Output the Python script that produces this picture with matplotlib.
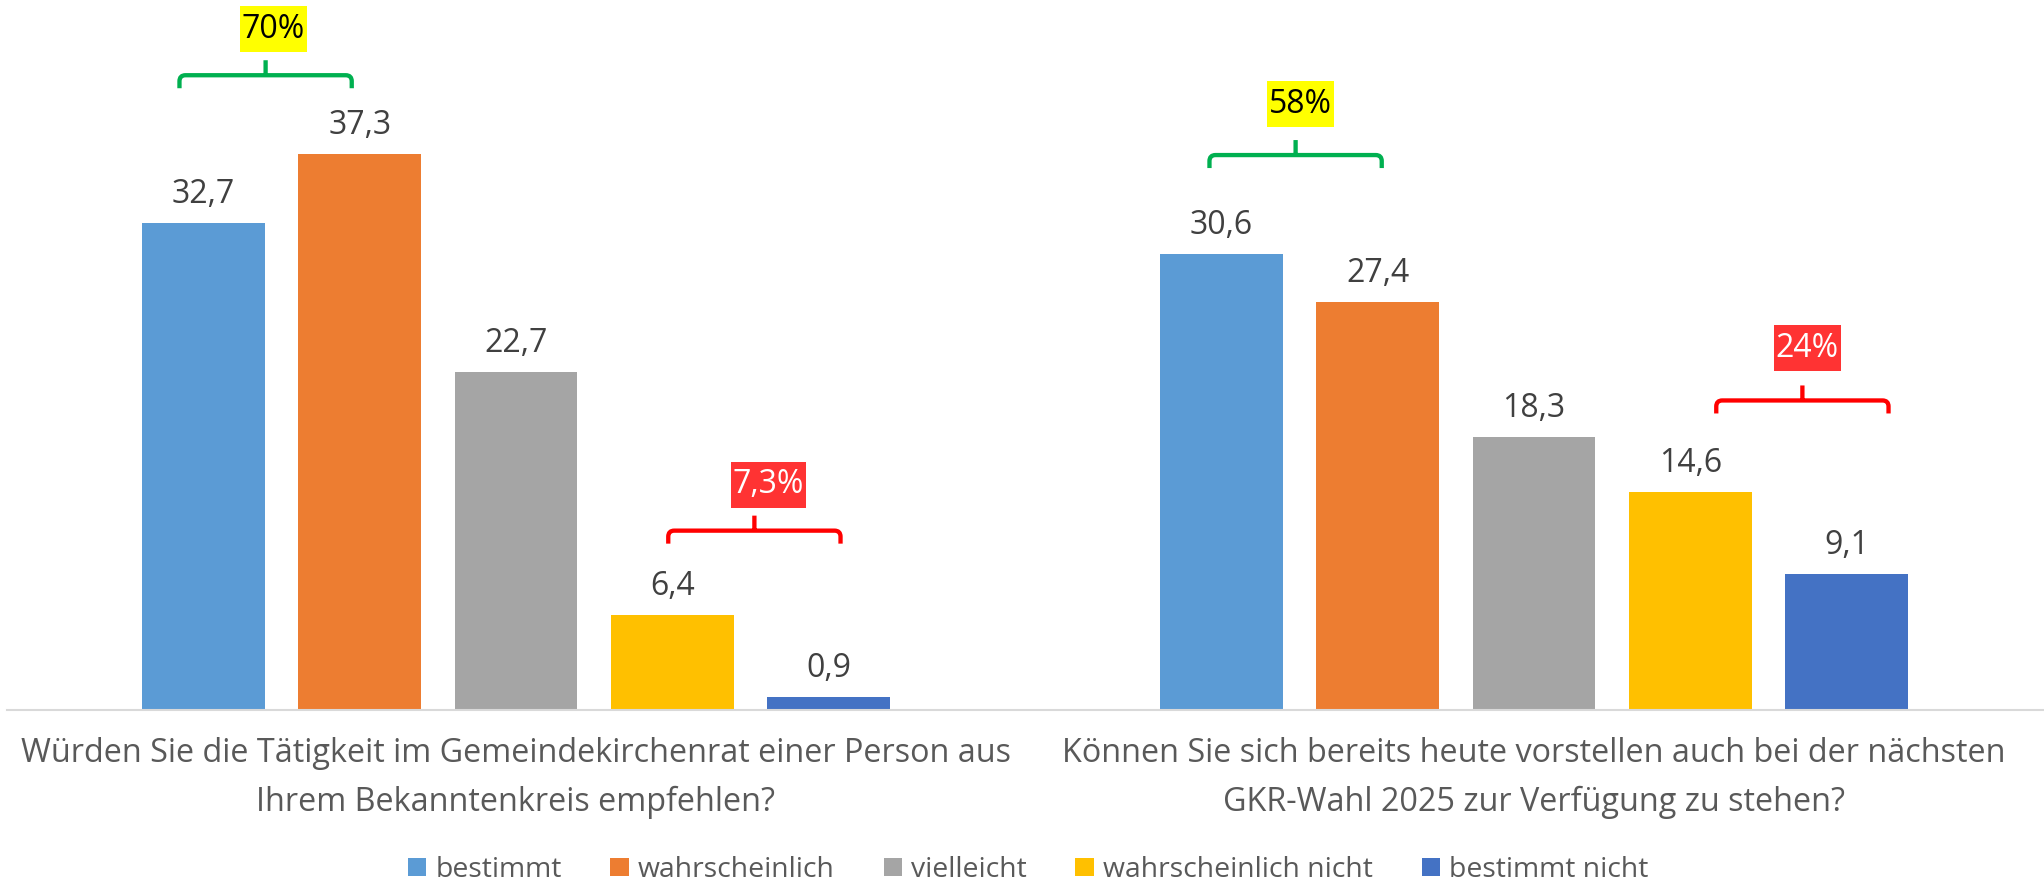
import numpy as np
import matplotlib.pyplot as plt
from matplotlib.patches import Patch, PathPatch, Rectangle
from matplotlib.path import Path
from matplotlib.transforms import IdentityTransform

plt.rcParams['font.family'] = ['Open Sans', 'DejaVu Sans']

# data
questions = ['Würden Sie die Tätigkeit im Gemeindekirchenrat einer Person aus\nIhrem Bekanntenkreis empfehlen?',
             'Können Sie sich bereits heute vorstellen auch bei der nächsten\nGKR-Wahl 2025 zur Verfügung zu stehen?']
answers = ['bestimmt', 'wahrscheinlich', 'vielleicht', 'wahrscheinlich nicht', 'bestimmt nicht']
bestimmt = [32.7, 30.6]
wahrscheinlich = [37.3, 27.4]
vielleicht = [22.7, 18.3]
wahrscheinlich_nicht = [6.4, 14.6]
bestimmt_nicht = [0.9, 9.1]
series = [bestimmt, wahrscheinlich, vielleicht, wahrscheinlich_nicht, bestimmt_nicht]

# summary brackets: question, first answer, last answer, label
summary_q = [0, 0, 1, 1]
summary_from = [0, 3, 0, 3]
summary_to = [1, 4, 1, 4]
summary_labels = ['70%', '7,3%', '58%', '24%']

# styling
colors = ['#5B9BD5', '#ED7D31', '#A5A5A5', '#FFC000', '#4472C4']
br_color = ['#00B050', '#FF0000', '#00B050', '#FF0000']
box_color = ['#FFFF00', '#FF3333', '#FFFF00', '#FF3333']
box_text = ['black', 'white', 'black', 'white']
br_shift = [-16, 4, -4, 34]   # px
br_lift = [79, 84, 99, 92]    # px above highest bar
lab_dx = [8, 14, 5, 5]
lab_gap = [8, 8, 13, 14]

W, H, DPI = 2044, 884, 100
pitch = 0.1535
width = 0.1208

fig = plt.figure(figsize=(W / DPI, H / DPI), dpi=DPI)
ax = fig.add_axes([7 / W, (H - 710) / H, 2036 / W, 710 / H])
ax.set_xlim(-0.5, 1.5)
ax.set_ylim(0, 710 / 14.9)

x = np.arange(len(questions))
for j, vals in enumerate(series):
    xs = x + (j - 2) * pitch
    ax.bar(xs, vals, width=width, color=colors[j], linewidth=0)
    for xi, v in zip(xs, vals):
        ax.annotate(f'{v:.1f}'.replace('.', ','), xy=(xi, v), xytext=(0, 14.4),
                    textcoords='offset points', ha='center', va='baseline',
                    fontsize=23, color='#404040')

for s in ['top', 'left', 'right']:
    ax.spines[s].set_visible(False)
ax.spines['bottom'].set_color('#D9D9D9')
ax.spines['bottom'].set_linewidth(1.5)
ax.set_yticks([])
ax.set_xticks(x, questions)
ax.tick_params(axis='x', length=0, pad=19.5, labelsize=23.3, labelcolor='#595959')
for t in ax.get_xticklabels():
    t.set_linespacing(1.64)

handles = [Patch(facecolor=c, edgecolor='none') for c in colors]
leg = fig.legend(handles, answers, loc='lower center', bbox_to_anchor=(0.503, 0.0), ncol=5,
                 frameon=False, fontsize=20.4, handlelength=0.64, handleheight=0.64,
                 handletextpad=0.33, columnspacing=1.72, borderpad=0, borderaxespad=0)
for t in leg.get_texts():
    t.set_color('#595959')

# brackets in pixel space
fig.canvas.draw()
renderer = fig.canvas.get_renderer()
r, drop, tick = 6, 13, 15
for k in range(len(summary_labels)):
    q, a, b = summary_q[k], summary_from[k], summary_to[k]
    xa = x[q] + (a - 2) * pitch
    xb = x[q] + (b - 2) * pitch
    top = max(series[j][q] for j in range(a, b + 1))
    (pa, ty), (pb, _) = ax.transData.transform([(xa, top), (xb, top)])
    xl = pa - 8 + br_shift[k]
    xr = pb + 8 + br_shift[k]
    yh = ty + br_lift[k]
    xc = (xl + xr) / 2
    verts = [(xl, yh - drop), (xl, yh - r), (xl, yh), (xl + r, yh),
             (xr - r, yh), (xr, yh), (xr, yh - r), (xr, yh - drop),
             (xc, yh), (xc, yh + tick)]
    codes = [Path.MOVETO, Path.LINETO, Path.CURVE3, Path.CURVE3,
             Path.LINETO, Path.CURVE3, Path.CURVE3, Path.LINETO,
             Path.MOVETO, Path.LINETO]
    fig.add_artist(PathPatch(Path(verts, codes), transform=IdentityTransform(),
                             facecolor='none', edgecolor=br_color[k], linewidth=3.1,
                             capstyle='butt', joinstyle='round'))
    bh = 46
    cy = yh + tick + lab_gap[k] + bh / 2
    cx = xc + lab_dx[k]
    txt = fig.text(cx / W, cy / H, summary_labels[k], ha='center', va='center',
                   fontsize=23, color=box_text[k], zorder=5)
    bb = txt.get_window_extent(renderer)
    fig.add_artist(Rectangle((bb.x0 - 2, cy - bh / 2), bb.width + 4, bh,
                             transform=IdentityTransform(), facecolor=box_color[k],
                             edgecolor='none', zorder=4))

fig.savefig('out.png', dpi=DPI)
